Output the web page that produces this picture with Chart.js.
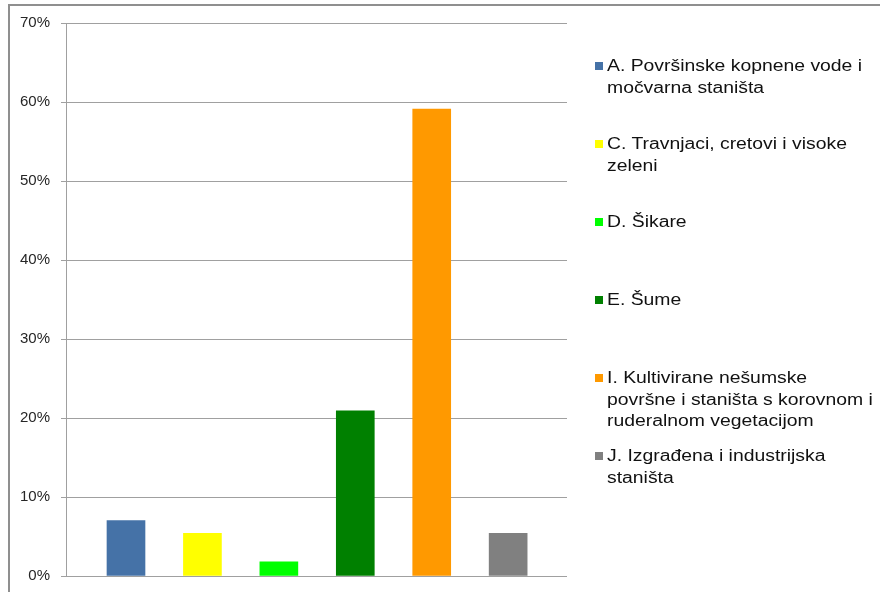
<!DOCTYPE html>
<html>
<head>
<meta charset="utf-8">
<script src="https://cdn.jsdelivr.net/npm/chart.js@4"></script>
<style>
    body { margin: 0; background: #fff; overflow: hidden; }
    #wrap { position: relative; width: 880px; height: 592px; overflow: hidden; }
    #frame { position: absolute; left: 8px; top: 4px; width: 900px; height: 700px;
             border-left: 2px solid #8f8f8f; border-top: 2px solid #8f8f8f; }
    #chart { position: absolute; left: 0; top: 0; }
    #legend { position: absolute; left: 595px; top: 55px;
              font-family: "Liberation Sans", Arial, sans-serif; font-size: 16px;
              line-height: 21.5px; color: #111; white-space: nowrap; }
    .item { position: relative; height: 78px; padding-left: 12px; }
    .item .txt { display: inline-block; transform: scaleX(1.21); transform-origin: left top; }
    .box { position: absolute; left: 0; top: 7px; width: 8px; height: 8px; }
</style>
</head>
<body>
<div id="wrap">
    <div id="frame"></div>
    <canvas id="chart" width="880" height="596"></canvas>
    <div id="legend"></div>
</div>
<script>
// legend text, one array entry per printed line
const categories = [
    ['A. Površinske kopnene vode i', 'močvarna staništa'],
    ['C. Travnjaci, cretovi i visoke', 'zeleni'],
    ['D. Šikare'],
    ['E. Šume'],
    ['I. Kultivirane nešumske', 'površne i staništa s korovnom i', 'ruderalnom vegetacijom'],
    ['J. Izgrađena i industrijska', 'staništa']
];
const shares = [7.0, 5.4, 1.8, 20.9, 59.1, 5.4];   // percent
const colors = ['#4572A7', '#FFFF00', '#00FF00', '#008000', '#FF9900', '#808080'];
const yTicks = [0, 10, 20, 30, 40, 50, 60, 70];

class HabitatChart {
    constructor() {
        this.chart = null;
        this.buildLegend();
        this.buildChart();
    }

    buildLegend() {
        const legend = document.getElementById('legend');
        legend.innerHTML = categories.map((lines, i) => `
            <div class="item">
                <span class="box" style="background:${colors[i]}"></span>
                <span class="txt">${lines.join('<br>')}</span>
            </div>
        `).join('');
    }

    buildChart() {
        const ctx = document.getElementById('chart');

        this.chart = new Chart(ctx.getContext('2d'), {
            type: 'bar',
            data: {
                datasets: [{
                    data: shares.map((v, i) => ({ x: i, y: v })),
                    backgroundColor: colors,
                    borderWidth: 0,
                    barThickness: 38
                }]
            },
            options: {
                responsive: false,
                animation: false,
                layout: { padding: { left: 0, right: 313, top: 23, bottom: 12 } },
                plugins: { legend: { display: false }, tooltip: { enabled: false } },
                scales: {
                    x: {
                        type: 'linear',
                        display: false,
                        offset: false,
                        min: -0.785,
                        max: 5.77
                    },
                    y: {
                        min: 0,
                        max: 70,
                        afterFit: scale => { scale.width = 66; },
                        afterBuildTicks: scale => { scale.ticks = yTicks.map(v => ({ value: v })); },
                        border: { color: '#a0a0a0', width: 1 },
                        grid: { color: '#a0a0a0', lineWidth: 1, tickLength: 5 },
                        ticks: {
                            padding: 11,
                            color: '#262626',
                            font: { family: '"Liberation Sans", Arial, sans-serif', size: 15 },
                            callback: value => value + '%'
                        }
                    }
                }
            }
        });
    }
}

document.addEventListener('DOMContentLoaded', () => {
    new HabitatChart();
});
</script>
</body>
</html>
